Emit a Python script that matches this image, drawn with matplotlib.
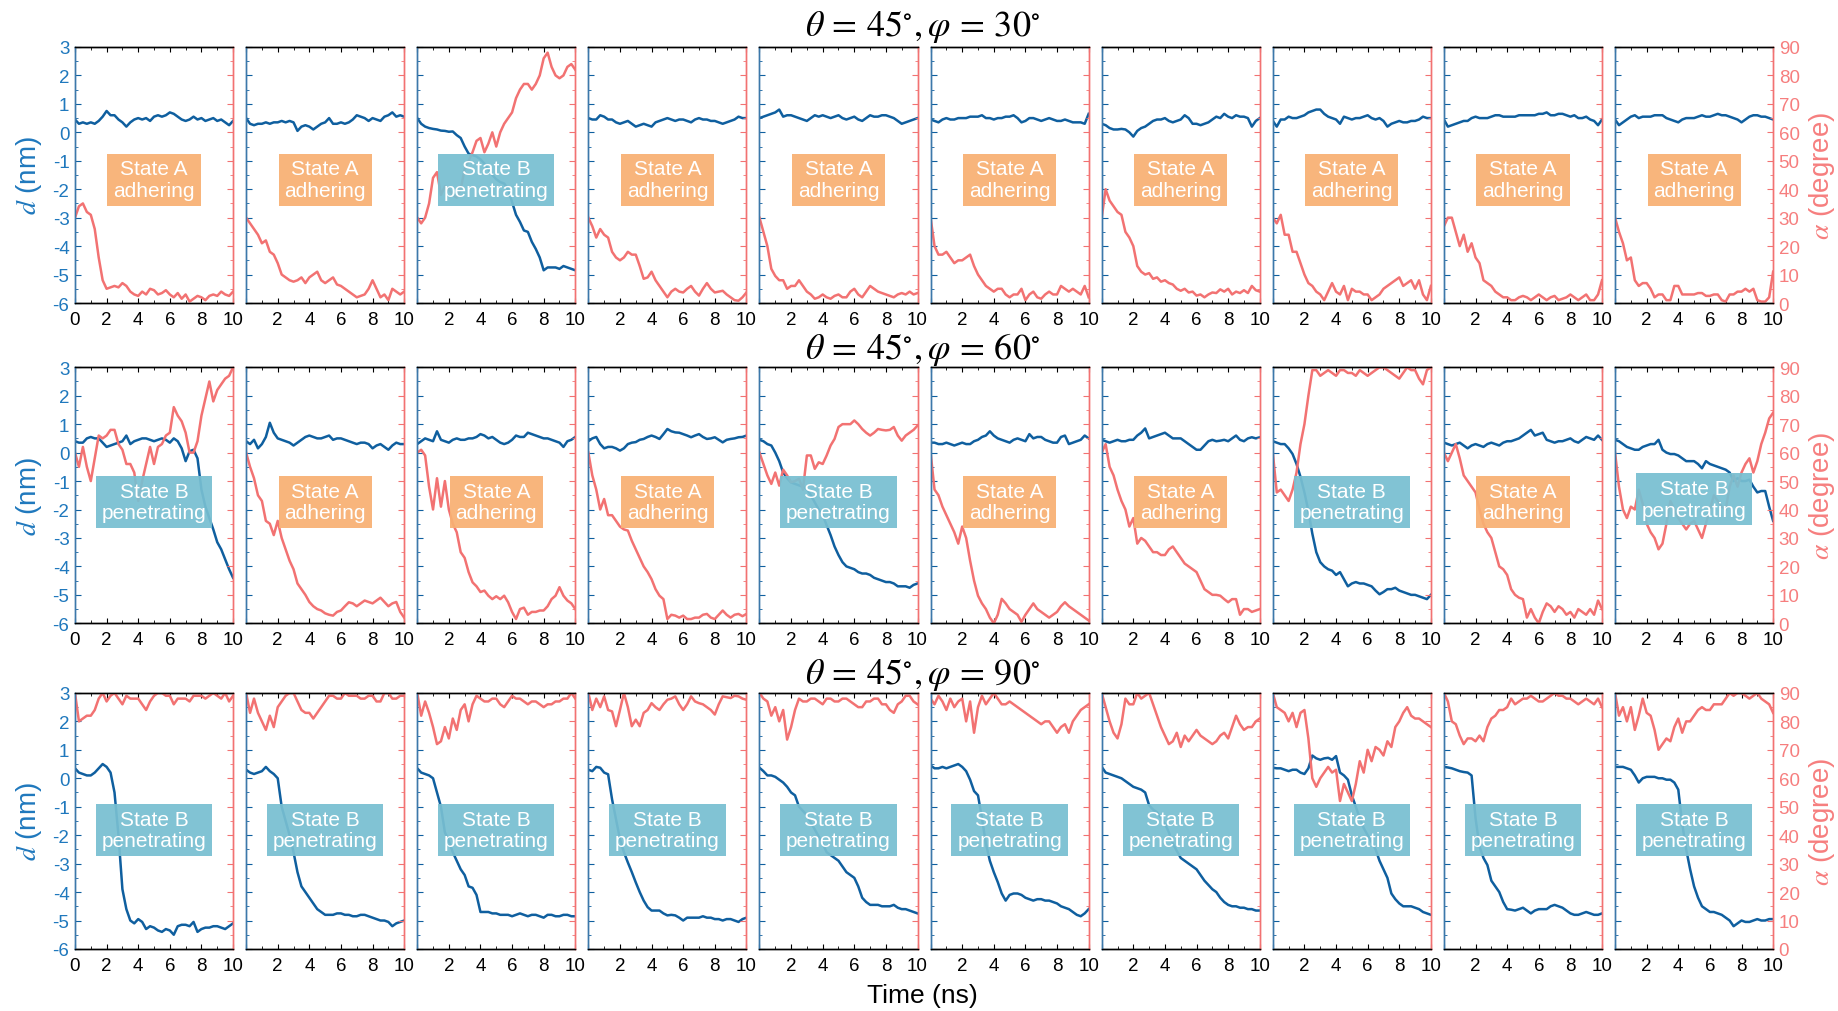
#!/usr/bin/env python3

import numpy as np
import matplotlib.pyplot as plt
from matplotlib.ticker import MultipleLocator

plt.rcParams['font.family'] = ['Liberation Sans', 'DejaVu Sans']
plt.rcParams['mathtext.fontset'] = 'stix'
plt.rcParams['axes.unicode_minus'] = False

# time axis, 0.25 ns sampling
time_ns = np.linspace(0, 10, 41)

phis = [30, 60, 90]

states_phi30 = ['A', 'A', 'B', 'A', 'A', 'A', 'A', 'A', 'A', 'A']
states_phi60 = ['B', 'A', 'A', 'A', 'B', 'A', 'A', 'B', 'A', 'B']
states_phi90 = ['B'] * 10

# d (nm), one list per run
d_phi30 = [
    [0.45, 0.3, 0.35, 0.3, 0.35, 0.3, 0.4, 0.55, 0.75, 0.6, 0.6, 0.45, 0.35, 0.2, 0.35, 0.45, 0.5, 0.45, 0.5, 0.4, 0.55, 0.6, 0.55, 0.6, 0.7, 0.65, 0.55, 0.45, 0.4, 0.45, 0.55, 0.45, 0.5, 0.4, 0.45, 0.5, 0.4, 0.45, 0.35, 0.25, 0.4],
    [0.5, 0.3, 0.25, 0.3, 0.3, 0.35, 0.3, 0.35, 0.35, 0.4, 0.35, 0.4, 0.35, 0.05, 0.2, 0.25, 0.2, 0.1, 0.2, 0.3, 0.35, 0.5, 0.3, 0.3, 0.35, 0.3, 0.35, 0.45, 0.6, 0.55, 0.5, 0.4, 0.5, 0.45, 0.4, 0.55, 0.6, 0.7, 0.55, 0.6, 0.55],
    [0.5, 0.3, 0.2, 0.15, 0.12, 0.1, 0.06, 0.05, 0.02, 0.03, -0.1, -0.2, -0.5, -0.75, -0.8, -0.85, -0.95, -1.1, -1.3, -1.5, -1.65, -1.75, -1.8, -2.0, -2.45, -2.9, -3.15, -3.45, -3.5, -3.85, -4.1, -4.4, -4.85, -4.75, -4.75, -4.75, -4.8, -4.7, -4.75, -4.8, -4.85],
    [0.5, 0.45, 0.45, 0.6, 0.55, 0.45, 0.45, 0.35, 0.3, 0.35, 0.4, 0.3, 0.2, 0.25, 0.3, 0.25, 0.2, 0.35, 0.4, 0.45, 0.5, 0.45, 0.4, 0.45, 0.45, 0.4, 0.35, 0.45, 0.5, 0.45, 0.45, 0.4, 0.4, 0.35, 0.3, 0.35, 0.4, 0.45, 0.55, 0.5, 0.5],
    [0.5, 0.55, 0.6, 0.65, 0.7, 0.8, 0.55, 0.6, 0.6, 0.55, 0.5, 0.45, 0.4, 0.5, 0.6, 0.55, 0.6, 0.55, 0.5, 0.55, 0.6, 0.5, 0.45, 0.5, 0.55, 0.45, 0.4, 0.5, 0.6, 0.55, 0.55, 0.6, 0.6, 0.55, 0.5, 0.4, 0.3, 0.35, 0.4, 0.45, 0.5],
    [0.45, 0.4, 0.35, 0.45, 0.5, 0.45, 0.45, 0.5, 0.5, 0.5, 0.55, 0.55, 0.55, 0.6, 0.5, 0.5, 0.45, 0.5, 0.5, 0.55, 0.55, 0.6, 0.5, 0.35, 0.4, 0.5, 0.5, 0.45, 0.4, 0.45, 0.5, 0.45, 0.4, 0.4, 0.45, 0.4, 0.35, 0.35, 0.35, 0.3, 0.65],
    [0.3, 0.25, 0.15, 0.1, 0.1, 0.12, 0.1, 0.0, -0.15, 0.05, 0.15, 0.2, 0.3, 0.4, 0.45, 0.45, 0.5, 0.4, 0.35, 0.4, 0.45, 0.6, 0.5, 0.3, 0.3, 0.25, 0.3, 0.35, 0.45, 0.55, 0.5, 0.65, 0.55, 0.5, 0.6, 0.55, 0.55, 0.5, 0.2, 0.4, 0.5],
    [0.4, 0.2, 0.45, 0.45, 0.55, 0.5, 0.5, 0.55, 0.6, 0.7, 0.75, 0.8, 0.8, 0.65, 0.55, 0.5, 0.45, 0.3, 0.55, 0.5, 0.45, 0.5, 0.5, 0.55, 0.6, 0.5, 0.45, 0.5, 0.4, 0.2, 0.3, 0.35, 0.4, 0.35, 0.35, 0.4, 0.4, 0.45, 0.55, 0.5, 0.5],
    [0.45, 0.2, 0.25, 0.3, 0.35, 0.4, 0.4, 0.5, 0.55, 0.5, 0.5, 0.5, 0.55, 0.6, 0.6, 0.55, 0.55, 0.55, 0.55, 0.6, 0.6, 0.6, 0.6, 0.6, 0.65, 0.65, 0.7, 0.6, 0.6, 0.65, 0.65, 0.6, 0.55, 0.6, 0.5, 0.5, 0.55, 0.45, 0.4, 0.25, 0.45],
    [0.45, 0.25, 0.35, 0.45, 0.55, 0.6, 0.5, 0.55, 0.55, 0.55, 0.6, 0.6, 0.6, 0.5, 0.45, 0.4, 0.35, 0.45, 0.5, 0.5, 0.5, 0.55, 0.6, 0.55, 0.55, 0.6, 0.65, 0.6, 0.6, 0.55, 0.5, 0.45, 0.35, 0.45, 0.55, 0.6, 0.6, 0.55, 0.55, 0.5, 0.45],
]

# alpha (degree), one list per run
alpha_phi30 = [
    [30, 34, 35, 32, 31, 26, 16, 8, 5, 5.5, 6, 5.5, 7, 6, 4, 3, 2.5, 4, 3, 5, 4.5, 3, 3.5, 4.5, 3, 2, 3.5, 1.5, 3, 0.5, 1.5, 2.5, 2, 1, 2.5, 3, 2.5, 4, 3, 2.5, 4],
    [30, 28, 26, 24, 21, 22, 18, 17, 14, 10, 9, 8, 7.5, 8, 9, 7, 9, 10, 11, 8, 7, 8, 9, 6.5, 6, 5, 4, 3, 2, 2.5, 3, 5, 8, 5, 2, 3, 1, 5, 4, 3, 4],
    [30, 28, 30, 35, 44, 46, 38, 41, 40, 38, 37, 40, 47, 50, 53, 57, 58, 53, 56, 60, 55, 60, 63, 65, 67, 72, 75, 77, 77, 75, 77, 80, 86, 88, 83, 80, 79, 80, 83, 84, 82],
    [30, 27, 23, 26, 24, 23, 18, 16, 15, 16, 18, 17, 17, 13, 8.5, 9, 11, 8, 6, 4, 2, 4, 5, 4, 3.7, 5, 6, 4, 2.6, 5, 7, 5, 3.7, 4, 4.3, 3, 2, 1, 0.8, 2, 3.7],
    [30, 25, 20, 12, 9.5, 8, 8, 5, 6, 6, 8, 6, 4, 3, 1.5, 2, 3, 2, 1.5, 2.5, 3, 2, 2, 4, 5, 3, 2, 4, 6, 5, 4, 3.5, 3, 2.5, 2, 3, 3.5, 3, 4, 3, 3.5],
    [30, 20, 17, 17, 18, 16, 14, 15, 15, 16, 17, 13, 10, 8, 6, 5, 4, 5, 5, 3, 2, 3, 3, 5, 1, 3, 4, 2, 1.5, 3, 4, 3, 3, 6, 5, 4, 5, 4, 3, 6, 2],
    [30, 40, 36, 34, 32, 31, 25, 23, 20, 13, 11, 10, 10.5, 8.5, 9, 7.5, 8, 7, 6.5, 5, 4.3, 5, 3.7, 4, 2.6, 3, 2, 3, 3.7, 3.5, 4.8, 4, 5, 3, 4, 3.5, 4.5, 3.5, 6, 4.5, 4],
    [30, 28, 31, 24, 24, 18, 18, 14, 10, 7, 6, 4, 3, 1, 4, 7, 4, 3, 6, 1, 5, 4, 4, 3, 3, 1, 2, 3, 5, 6, 7, 8, 9, 6, 7, 8, 5, 8, 3, 1, 6],
    [27, 30, 30, 25, 20, 24, 18, 21, 16, 14, 8, 7, 6, 4, 3, 2, 2, 1, 1, 2, 2.5, 2, 1, 2, 3, 2, 1, 2, 2.5, 1, 1.5, 2, 3, 2, 1, 2, 3, 1, 1, 3, 8],
    [30, 25, 21, 15, 16, 8, 6, 7, 7, 5, 2, 3, 3, 1, 1, 6, 6, 3, 3, 3, 3, 3.5, 3.5, 2.5, 2.5, 3, 3, 1, 0.5, 3, 3, 4, 4, 5, 4, 5, 1, 0.5, 0.5, 2, 11],
]

d_phi60 = [
    [0.4, 0.35, 0.35, 0.5, 0.55, 0.5, 0.5, 0.35, 0.2, 0.25, 0.3, 0.35, 0.4, 0.6, 0.3, 0.4, 0.45, 0.5, 0.5, 0.45, 0.4, 0.45, 0.5, 0.45, 0.35, 0.5, 0.4, 0.15, -0.3, 0.05, 0.1, -0.2, -1.3, -1.9, -2.3, -2.7, -3.15, -3.4, -3.75, -4.1, -4.4],
    [0.4, 0.3, 0.45, 0.15, 0.3, 0.55, 1.05, 0.7, 0.5, 0.45, 0.4, 0.35, 0.25, 0.35, 0.45, 0.55, 0.6, 0.55, 0.5, 0.5, 0.55, 0.6, 0.45, 0.5, 0.5, 0.45, 0.4, 0.35, 0.3, 0.35, 0.35, 0.3, 0.15, 0.25, 0.3, 0.2, 0.1, 0.25, 0.35, 0.3, 0.3],
    [0.3, 0.4, 0.5, 0.45, 0.4, 0.75, 0.45, 0.4, 0.35, 0.45, 0.5, 0.45, 0.45, 0.5, 0.5, 0.55, 0.65, 0.6, 0.5, 0.55, 0.45, 0.35, 0.3, 0.35, 0.45, 0.6, 0.55, 0.55, 0.7, 0.65, 0.6, 0.55, 0.5, 0.5, 0.45, 0.4, 0.35, 0.2, 0.4, 0.45, 0.55],
    [0.4, 0.5, 0.55, 0.3, 0.15, 0.2, 0.2, 0.15, 0.07, 0.15, 0.3, 0.35, 0.37, 0.45, 0.48, 0.55, 0.6, 0.55, 0.48, 0.65, 0.83, 0.75, 0.71, 0.7, 0.65, 0.6, 0.54, 0.6, 0.65, 0.55, 0.48, 0.5, 0.54, 0.45, 0.36, 0.45, 0.48, 0.5, 0.54, 0.55, 0.6],
    [0.45, 0.4, 0.3, 0.25, 0.0, -0.3, -0.7, -0.9, -1.05, -1.1, -1.15, -1.2, -1.28, -1.5, -1.75, -2.0, -2.2, -2.55, -2.9, -3.3, -3.6, -3.85, -4.0, -4.05, -4.1, -4.2, -4.25, -4.25, -4.3, -4.4, -4.45, -4.5, -4.55, -4.55, -4.6, -4.7, -4.7, -4.7, -4.75, -4.65, -4.6],
    [0.35, 0.35, 0.3, 0.3, 0.35, 0.3, 0.25, 0.3, 0.35, 0.3, 0.3, 0.4, 0.45, 0.55, 0.6, 0.75, 0.6, 0.5, 0.45, 0.4, 0.35, 0.45, 0.5, 0.45, 0.4, 0.65, 0.5, 0.55, 0.55, 0.45, 0.4, 0.35, 0.35, 0.55, 0.6, 0.3, 0.35, 0.4, 0.45, 0.6, 0.5],
    [0.45, 0.4, 0.35, 0.4, 0.45, 0.4, 0.4, 0.45, 0.45, 0.6, 0.7, 0.85, 0.5, 0.55, 0.6, 0.65, 0.7, 0.6, 0.5, 0.5, 0.5, 0.4, 0.3, 0.2, 0.1, 0.1, 0.25, 0.4, 0.45, 0.4, 0.42, 0.45, 0.4, 0.5, 0.6, 0.45, 0.4, 0.5, 0.54, 0.5, 0.54],
    [0.4, 0.35, 0.3, 0.3, 0.15, -0.05, -0.4, -0.85, -1.4, -2.05, -2.85, -3.5, -3.85, -4.0, -4.1, -4.15, -4.3, -4.2, -4.45, -4.7, -4.6, -4.55, -4.6, -4.6, -4.65, -4.7, -4.85, -4.98, -4.9, -4.8, -4.8, -4.75, -4.85, -4.9, -4.95, -5.0, -5.0, -5.05, -5.1, -5.15, -5.0],
    [0.35, 0.3, 0.25, 0.3, 0.35, 0.25, 0.15, 0.25, 0.3, 0.25, 0.2, 0.3, 0.35, 0.3, 0.25, 0.35, 0.4, 0.4, 0.45, 0.5, 0.6, 0.7, 0.8, 0.6, 0.65, 0.7, 0.45, 0.4, 0.35, 0.4, 0.4, 0.45, 0.5, 0.4, 0.35, 0.45, 0.55, 0.5, 0.45, 0.6, 0.45],
    [0.45, 0.4, 0.3, 0.2, 0.15, 0.1, 0.1, 0.2, 0.25, 0.3, 0.3, 0.45, 0.1, 0.0, -0.05, -0.05, -0.1, -0.2, -0.3, -0.3, -0.3, -0.4, -0.55, -0.3, -0.4, -0.45, -0.5, -0.55, -0.6, -0.7, -1.0, -0.9, -1.0, -1.0, -0.95, -1.2, -1.4, -1.35, -1.35, -1.9, -2.4],
]

alpha_phi60 = [
    [60, 55, 62, 55, 50, 58, 66, 65, 66, 68, 68, 63, 61, 56, 56, 53, 43, 50, 56, 62, 56, 62, 63, 66, 67, 76, 73, 71, 67, 60, 60, 64, 73, 79, 85, 78, 82, 84, 86, 87, 90],
    [60, 55, 51, 45, 43, 36, 35, 31, 36, 30, 26, 22, 19, 14, 12, 10, 7.5, 6, 5, 4.5, 3.5, 3, 2.7, 4, 4.5, 6, 7.4, 7, 6, 7, 8, 7.5, 7, 8, 9, 7.5, 6, 7, 7.5, 4, 2],
    [60, 61, 59, 48, 40, 51, 41, 50, 40, 35, 32, 25, 23, 18, 14.4, 13, 11, 11.5, 9.7, 8.5, 9.5, 8.5, 9.7, 7.4, 4, 1.5, 5, 5.5, 3, 4, 4, 4.5, 4.5, 6, 8.5, 9.7, 12.7, 9.7, 8, 7, 5],
    [60, 52, 47, 40, 43.7, 38, 38, 36, 34, 33, 32.6, 29, 26, 23, 20, 18, 15.5, 12, 9.7, 8.5, 1.5, 3, 2.7, 2, 2.7, 1.5, 1.5, 2, 2, 3, 3.3, 2, 1.5, 3, 4.5, 3, 2, 3, 3.3, 2.5, 3.3],
    [60, 56, 52, 49, 53, 48.4, 54, 52, 49.6, 50, 50.8, 47, 59, 59, 54.3, 56.6, 56, 59, 62.5, 64.8, 69, 70, 70, 70, 71.3, 70, 68.3, 67, 66, 67, 68.3, 68, 67.8, 68, 69, 66, 64.2, 66, 67, 68, 69.5],
    [60, 47, 45, 41, 38, 35, 32, 28, 34, 30, 22, 15, 9.7, 7, 5, 2, 0, 3, 8.6, 7, 5, 4, 3, 0.5, 3, 5, 7, 5, 4, 3, 2, 3, 4, 6, 7.4, 6, 5, 4, 3, 2, 1],
    [60, 63, 55, 52, 47, 43, 40, 34, 37, 28, 30, 29, 27, 25, 25, 24, 24, 26, 27, 25, 23, 21, 20, 19, 18, 15, 12, 11, 10, 10, 9.7, 8.5, 7.4, 8.5, 8.5, 3, 5, 5, 4, 4.5, 5],
    [60, 46, 47, 45, 43, 47, 53, 63, 70, 80, 89, 89, 87, 88, 89, 88, 87, 89, 89, 88, 88, 87, 89, 88, 87, 88, 89, 90, 90, 89, 88, 87, 86, 88, 90, 89, 89, 86, 84, 89, 90],
    [60, 57, 60, 63, 58, 52, 50, 48, 46, 40, 35, 32, 30, 25, 20, 19, 17, 12, 10, 9, 8.5, 2, 5, 2, 0, 4, 7, 6, 4, 6, 5, 3, 4, 2, 5, 4, 3, 5, 3, 8, 5],
    [60, 48, 40, 37, 41, 40, 47, 42, 35, 32, 30, 26, 28, 35, 43, 40, 37, 35, 33, 35, 36, 33, 30, 35, 40, 45, 43, 41, 40, 48, 52, 48, 53, 56, 58, 53, 57, 63, 67, 72, 74],
]

d_phi90 = [
    [0.35, 0.2, 0.15, 0.1, 0.1, 0.2, 0.35, 0.5, 0.4, 0.2, -0.5, -2.0, -3.9, -4.6, -5.0, -5.1, -4.95, -5.05, -5.3, -5.2, -5.25, -5.35, -5.4, -5.3, -5.35, -5.5, -5.2, -5.15, -5.15, -5.2, -5.05, -5.4, -5.3, -5.25, -5.25, -5.2, -5.2, -5.25, -5.3, -5.2, -5.1],
    [0.3, 0.2, 0.15, 0.2, 0.25, 0.4, 0.25, 0.15, 0.0, -1.0, -1.5, -2.0, -2.6, -3.3, -3.8, -4.0, -4.2, -4.4, -4.6, -4.7, -4.8, -4.8, -4.8, -4.75, -4.75, -4.8, -4.8, -4.85, -4.85, -4.8, -4.8, -4.85, -4.9, -4.95, -5.0, -5.0, -5.05, -5.2, -5.1, -5.05, -5.0],
    [0.35, 0.2, 0.15, 0.1, 0.0, -0.5, -1.0, -1.9, -2.2, -2.6, -2.9, -3.2, -3.4, -3.8, -3.85, -4.1, -4.7, -4.7, -4.7, -4.75, -4.75, -4.8, -4.8, -4.8, -4.85, -4.8, -4.75, -4.8, -4.85, -4.8, -4.8, -4.85, -4.9, -4.8, -4.8, -4.85, -4.85, -4.8, -4.8, -4.85, -4.85],
    [0.3, 0.25, 0.4, 0.37, 0.2, 0.14, -0.74, -1.44, -2.14, -2.6, -2.96, -3.3, -3.66, -4.0, -4.3, -4.53, -4.65, -4.65, -4.65, -4.75, -4.82, -4.8, -4.82, -4.9, -5.0, -4.9, -4.9, -4.9, -4.9, -4.85, -4.9, -4.9, -4.95, -4.95, -5.0, -4.95, -4.95, -5.0, -5.05, -4.95, -4.9],
    [0.37, 0.25, 0.1, 0.1, 0.05, -0.05, -0.15, -0.3, -0.5, -0.6, -1.0, -1.15, -1.3, -1.55, -1.8, -2.05, -2.3, -2.6, -2.7, -2.8, -2.9, -3.1, -3.3, -3.4, -3.5, -3.8, -4.2, -4.35, -4.45, -4.45, -4.45, -4.5, -4.5, -4.5, -4.45, -4.55, -4.6, -4.6, -4.65, -4.7, -4.75],
    [0.45, 0.35, 0.35, 0.4, 0.35, 0.4, 0.45, 0.5, 0.4, 0.25, -0.05, -0.45, -0.6, -1.4, -2.3, -2.9, -3.3, -3.65, -4.05, -4.3, -4.1, -4.05, -4.05, -4.1, -4.2, -4.25, -4.3, -4.25, -4.25, -4.3, -4.3, -4.35, -4.4, -4.5, -4.55, -4.6, -4.7, -4.8, -4.85, -4.75, -4.6],
    [0.4, 0.2, 0.15, 0.1, 0.05, 0.0, -0.1, -0.2, -0.3, -0.35, -0.4, -0.5, -0.95, -1.1, -1.2, -1.4, -1.6, -1.9, -2.3, -2.55, -2.8, -2.9, -3.0, -3.1, -3.2, -3.4, -3.6, -3.75, -3.9, -4.0, -4.2, -4.35, -4.45, -4.5, -4.5, -4.55, -4.55, -4.6, -4.6, -4.65, -4.65],
    [0.37, 0.35, 0.35, 0.3, 0.25, 0.3, 0.3, 0.2, 0.15, 0.35, 0.8, 0.7, 0.65, 0.7, 0.72, 0.65, 0.78, 0.2, 0.1, -0.05, -0.6, -1.0, -1.4, -1.75, -2.0, -2.25, -2.5, -2.9, -3.2, -3.5, -4.05, -4.25, -4.4, -4.5, -4.5, -4.5, -4.55, -4.6, -4.7, -4.75, -4.8],
    [0.4, 0.38, 0.35, 0.3, 0.25, 0.22, 0.2, 0.1, -1.4, -2.4, -2.8, -3.05, -3.6, -3.8, -4.0, -4.35, -4.6, -4.62, -4.65, -4.6, -4.55, -4.65, -4.75, -4.65, -4.6, -4.6, -4.6, -4.5, -4.45, -4.5, -4.55, -4.65, -4.75, -4.8, -4.8, -4.75, -4.7, -4.75, -4.8, -4.8, -4.75],
    [0.4, 0.4, 0.4, 0.35, 0.3, 0.1, -0.15, 0.0, 0.05, 0.05, 0.05, 0.0, 0.0, -0.05, -0.05, -0.15, -0.4, -1.6, -2.5, -3.2, -3.8, -4.2, -4.5, -4.6, -4.7, -4.7, -4.75, -4.8, -4.9, -5.0, -5.2, -5.1, -5.0, -5.05, -5.05, -5.0, -4.95, -5.0, -5.0, -4.95, -4.95],
]

alpha_phi90 = [
    [90, 80, 81, 82, 82, 84, 88, 90, 87, 89, 90, 88, 86, 89, 88, 88, 88, 86, 84, 87, 89, 90, 90, 89, 89, 86, 88, 88, 88, 87, 89, 89, 89, 88, 89, 90, 89, 88, 90, 87, 89],
    [90, 83, 88, 83, 80, 77, 82, 78, 85, 87, 89, 90, 90, 87, 84, 83, 83, 81, 83, 85, 87, 89, 89, 88, 88, 90, 89, 89, 89, 88, 88, 89, 89, 87, 87, 90, 90, 88, 88, 89, 89],
    [90, 82, 87, 83, 78, 72, 73, 78, 74, 81, 77, 84, 86, 80, 86, 89, 88, 87, 87, 88, 88, 86, 85, 87, 89, 88, 88, 87, 86, 87, 87, 86, 85, 86, 86, 87, 87, 88, 88, 90, 88],
    [90, 84, 88, 85, 88.8, 84, 83.5, 78.3, 84, 90, 85, 78.3, 80.6, 78.3, 83, 84, 86.4, 85, 84, 86, 87.6, 88, 88.8, 86, 84, 86, 88.8, 87, 86.4, 86, 85, 84, 82.4, 86, 88.8, 88.5, 88.2, 89, 88.8, 88, 87.6],
    [90, 88, 87, 82, 85, 80, 84, 73.6, 78, 84, 88, 87, 87, 88, 88, 87, 86, 88, 88, 87, 87, 88, 88, 87, 86, 85, 85, 87, 87, 88, 88, 86, 86, 84, 83, 86, 87, 89, 89, 87, 86],
    [88, 86, 89, 87, 84, 88, 85, 87, 88, 80, 87, 76, 85, 89, 86, 88, 90, 88, 86, 86, 87, 86, 85, 84, 83, 82, 81, 80, 79, 80, 80, 78, 76, 78, 79, 76, 80, 82, 84, 85, 86],
    [90, 85, 80, 76, 74, 79, 88, 86, 86, 90, 88, 89, 90, 86, 82, 78, 75, 72, 73, 76, 71, 75, 73, 75, 77, 75, 74, 73, 72, 73, 75, 76, 74, 78, 82, 79, 77, 78, 78, 80, 81],
    [90, 85, 84, 83, 80, 83, 78, 83, 84, 74, 60, 57, 60, 62, 64, 62, 63, 52, 58, 55, 52, 58, 66, 62, 70, 66, 71, 70, 68, 73, 71, 78, 80, 83, 85, 82, 81, 81, 80, 79, 78],
    [90, 87, 80, 79, 75, 72, 74, 74, 73, 75, 73, 78, 81, 82, 84, 84, 85, 88, 86, 87, 88, 88, 89, 88, 87, 87, 88, 89, 90, 89, 89, 88, 88, 87, 86, 87, 88, 87, 86, 88, 85],
    [90, 82, 85, 80, 85, 77, 82, 88, 83, 82, 77, 70, 72, 74, 73, 78, 81, 76, 80, 80, 82, 84, 85, 84, 84, 86, 86, 86, 88, 90, 89, 90, 90, 89, 88, 89, 90, 88, 87, 86, 83],
]

d_rows = [d_phi30, d_phi60, d_phi90]
alpha_rows = [alpha_phi30, alpha_phi60, alpha_phi90]
state_rows = [states_phi30, states_phi60, states_phi90]

BLUE = '#0f5f9f'
BLUE_TXT = '#1f78bd'
RED = '#f27272'
RED_TXT = '#f67e7e'
state_style = {'A': ('State A\nadhering', '#f8b072'),
               'B': ('State B\npenetrating', '#78bfd1')}

fig = plt.figure(figsize=(18.38, 10.12), dpi=100)

left, pitch, width = 0.0408, 0.0931, 0.0860
height = 0.253
bottoms = [0.6996, 0.3831, 0.0613]
box_y = [0.482, 0.473, 0.465]
TICK_FS = 13.5

for r in range(3):
    for c in range(10):
        ax = fig.add_axes([left + c * pitch, bottoms[r], width, height])
        ax2 = ax.twinx()
        ax.plot(time_ns, d_rows[r][c], color=BLUE, lw=1.8)
        ax2.plot(time_ns, alpha_rows[r][c], color=RED, lw=1.8)
        ax.set_xlim(0, 10)
        ax.set_ylim(-6, 3)
        ax2.set_ylim(0, 90)

        ax.xaxis.set_major_locator(MultipleLocator(2))
        ax.xaxis.set_minor_locator(MultipleLocator(1))
        ax.yaxis.set_major_locator(MultipleLocator(1))
        ax.yaxis.set_minor_locator(MultipleLocator(0.5))
        ax2.yaxis.set_major_locator(MultipleLocator(10))
        ax2.yaxis.set_minor_locator(MultipleLocator(5))

        ax.tick_params(axis='x', which='both', direction='in', top=True,
                       labelsize=TICK_FS, pad=5.8)
        ax.tick_params(axis='x', which='major', length=3.5)
        ax.tick_params(axis='x', which='minor', length=2.5)
        ax.tick_params(axis='y', which='both', direction='in', color=BLUE,
                       labelcolor=BLUE_TXT, labelsize=TICK_FS, pad=4)
        ax.tick_params(axis='y', which='major', length=4.2)
        ax.tick_params(axis='y', which='minor', length=2.2)
        ax2.tick_params(axis='y', which='both', direction='in', color=RED,
                        labelcolor=RED_TXT, labelsize=TICK_FS, pad=4)
        ax2.tick_params(axis='y', which='major', length=4.2)
        ax2.tick_params(axis='y', which='minor', length=2.2)

        if c > 0:
            ax.set_xticks([0, 2, 4, 6, 8, 10])
            ax.set_xticklabels(['', '2', '4', '6', '8', '10'])
            ax.tick_params(axis='y', labelleft=False)
        if c < 9:
            ax2.tick_params(axis='y', labelright=False)

        for a in (ax, ax2):
            a.spines['left'].set_color('#3c78aa')
            a.spines['right'].set_color(RED)
            a.spines['top'].set_color('black')
            a.spines['bottom'].set_color('black')
            for s in a.spines.values():
                s.set_linewidth(1.0)

        label, fc = state_style[state_rows[r][c]]
        y = box_y[r]
        if r == 1 and c == 9:
            y = 0.484
        ax2.text(0.5, y, label, transform=ax2.transAxes, ha='center',
                 va='center', fontsize=15, color='white', linespacing=1.15,
                 zorder=10,
                 bbox=dict(boxstyle='square,pad=0.28', fc=fc, ec='none',
                           alpha=0.93))

    yc = bottoms[r] + height / 2
    fig.text(0.0158, yc, r'$d$ (nm)', rotation=90, color=BLUE_TXT,
             fontsize=20, ha='center', va='center')
    fig.text(0.9915, yc, r'$\alpha$ (degree)', rotation=90, color=RED_TXT,
             fontsize=20, ha='center', va='center')

title_y = [0.973, 0.655, 0.333]
for r, phi in enumerate(phis):
    fig.text(0.502, title_y[r],
             r'$\theta\, =\, 45^{\circ}, \varphi\, =\, %d^{\circ}$' % phi,
             fontsize=26, ha='center', va='center')

fig.text(0.502, 0.016, 'Time (ns)', fontsize=19, ha='center', va='center')

fig.savefig('out.png', dpi=100)
